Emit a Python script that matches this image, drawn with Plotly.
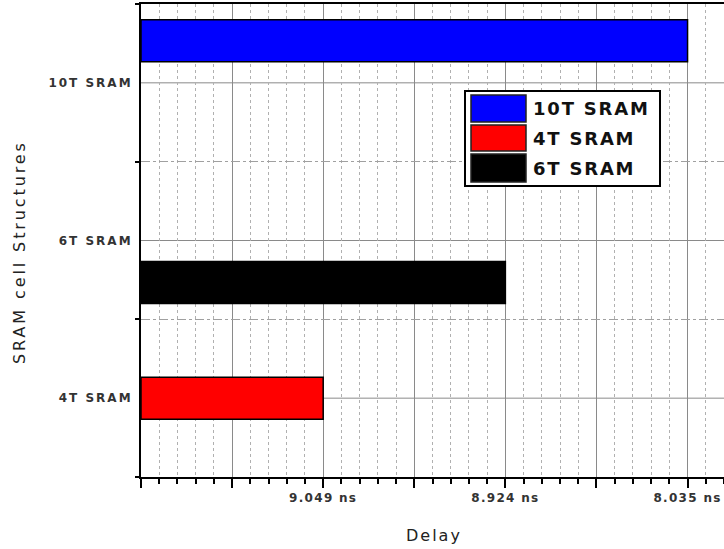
import plotly.graph_objects as go

# ---- data ----
categories = ["4T SRAM", "6T SRAM", "10T SRAM"]          # y axis, bottom to top
series_names = ["6T SRAM", "4T SRAM", "10T SRAM"]        # trace order (bottom slot first)
series_values = [4, 2, 6]                                # bar lengths on the delay axis
series_colors = ["#000000", "#ff0000", "#0000ff"]
legend_order = ["10T SRAM", "4T SRAM", "6T SRAM"]
x_tick_vals = [0, 1, 2, 3, 4, 5, 6]
x_tick_labels = ["", "", "9.049 ns", "", "8.924 ns", "", "8.035 ns"]
x_title = "Delay"
y_title = "SRAM cell Structures"

W, H = 724, 549
L, R, T, B = 141, 0, 4, 72
PW, PH = W - L - R, H - T - B


def px(xpix):
    return (xpix - L) / PW


def py(ypix):
    return (T + PH - ypix) / PH


def spaced(text, sp):
    return f'<span style="letter-spacing:{sp}px">{text}</span>'


FONT = "DejaVu Sans"

fig = go.Figure()
for i, (name, val, col) in enumerate(zip(series_names, series_values, series_colors)):
    fig.add_trace(go.Bar(
        y=[name], x=[val], orientation="h", name=name,
        offsetgroup=str(i),
        marker=dict(color=col, line=dict(color="#000000", width=1.5)),
        showlegend=False,
    ))

shapes = []
# solid lines at category centres
for c in categories:
    shapes.append(dict(type="line", xref="paper", yref="y", x0=0, x1=1, y0=c, y1=c,
                       line=dict(color="#8a8a8a", width=1), layer="below"))

# custom legend
shapes.append(dict(type="rect", xref="paper", yref="paper",
                   x0=px(465), x1=px(660), y0=py(91), y1=py(186),
                   fillcolor="white", line=dict(color="black", width=2), layer="above"))
rows = [(95, 122), (125, 151), (154, 182)]
annotations = []
color_of = dict(zip(series_names, series_colors))
for name, (y0, y1) in zip(legend_order, rows):
    shapes.append(dict(type="rect", xref="paper", yref="paper",
                       x0=px(471), x1=px(526), y0=py(y0), y1=py(y1),
                       fillcolor=color_of[name], line=dict(color="#222222", width=1.5),
                       layer="above"))
    annotations.append(dict(xref="paper", yref="paper", x=px(531), y=py((y0 + y1) / 2),
                            xanchor="left", yanchor="middle", showarrow=False,
                            text="<b>" + spaced(name, 1.8) + "</b>",
                            font=dict(family=FONT, size=18, color="#111111")))

annotations.append(dict(xref="paper", yref="paper", x=px(434), y=py(535),
                        xanchor="center", yanchor="middle", showarrow=False,
                        text=spaced(x_title, 2),
                        font=dict(family=FONT, size=16, color="#222222")))
annotations.append(dict(xref="paper", yref="paper", x=px(20), y=py(252),
                        xanchor="center", yanchor="middle", showarrow=False,
                        textangle=-90, text=spaced(y_title, 2.9),
                        font=dict(family=FONT, size=16, color="#222222")))

fig.update_layout(
    width=W, height=H,
    margin=dict(l=L, r=R, t=T, b=B, autoexpand=False),
    paper_bgcolor="white", plot_bgcolor="white",
    barmode="group", bargap=0.2, bargroupgap=0,
    showlegend=False,
    shapes=shapes, annotations=annotations,
    xaxis=dict(
        range=[0, 6.4], zeroline=False, automargin=False,
        tickmode="array", tickvals=x_tick_vals,
        ticktext=["<b>" + spaced(t, 1.3) + "</b>" if t else "" for t in x_tick_labels],
        ticks="outside", ticklen=9, tickwidth=1.5, tickcolor="black",
        tickfont=dict(family=FONT, size=12, color="#333333"),
        showgrid=True, gridcolor="#8a8a8a", gridwidth=1,
        showline=True, linecolor="black", linewidth=2, mirror=True,
        minor=dict(dtick=0.2, ticks="outside", ticklen=5, tickcolor="black", tickwidth=1.5,
                   showgrid=True, gridcolor="#b0b0b0", griddash="dot", gridwidth=1),
    ),
    yaxis=dict(
        type="category", categoryorder="array", categoryarray=categories,
        range=[-0.5, 2.5], automargin=False,
        tickmode="array", tickvals=categories,
        ticktext=["<b>" + spaced(c, 2) + "</b>" for c in categories],
        tickson="boundaries",
        ticks="outside", ticklen=4, tickwidth=2, tickcolor="black",
        tickfont=dict(family=FONT, size=12, color="#333333"),
        ticklabelstandoff=4,
        showgrid=True, gridcolor="#a0a0a0", griddash="dashdot", gridwidth=1,
        showline=True, linecolor="black", linewidth=2, mirror=False,
        zeroline=False,
    ),
)

fig.write_html("out.html",
               config={"displayModeBar": False},
               post_script="document.body.style.margin='0';document.body.style.overflow='hidden';")
